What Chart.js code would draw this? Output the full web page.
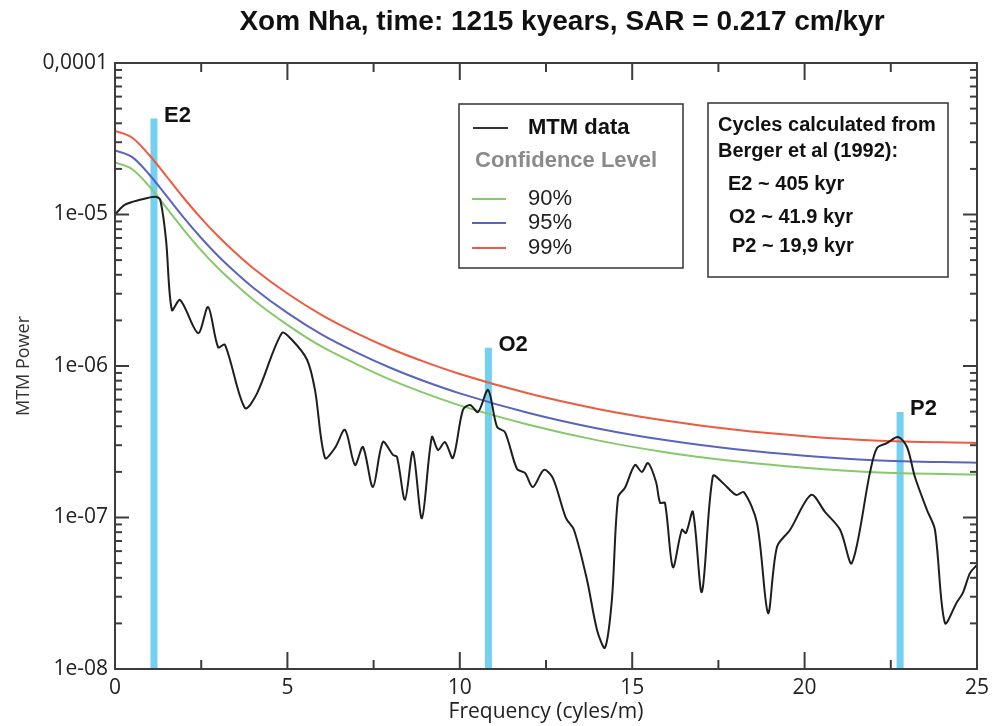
<!DOCTYPE html>
<html>
<head>
<meta charset="utf-8">
<title>Xom Nha MTM spectrum</title>
<script src="https://cdn.jsdelivr.net/npm/chart.js@4/dist/chart.umd.min.js"></script>
<style>
    html, body { margin: 0; padding: 0; background: #fff; }
    #wrap { width: 1003px; height: 726px; }
</style>
</head>
<body>
<div id="wrap"><canvas id="spectrum" width="1003" height="726"></canvas></div>
<script>
// MTM spectrum (frequency in cycles/m, power)
const mtmFreq = [0, 0.29, 0.73, 1.16, 1.31, 1.48, 1.65, 1.89, 2.41, 2.70,
    2.99, 3.19, 3.77, 4.12, 4.84, 5.13, 5.57, 5.80, 6.09, 6.38,
    6.67, 6.96, 7.19, 7.48, 7.77, 8.06, 8.18, 8.41, 8.64, 8.90,
    9.19, 9.37, 9.57, 9.80, 10.09, 10.30, 10.53, 10.82, 11.08, 11.31,
    11.66, 11.89, 12.12, 12.44, 12.70, 13.08, 13.31, 13.69, 13.98, 14.21,
    14.41, 14.59, 14.79, 15.08, 15.28, 15.46, 15.69, 15.81, 15.95, 16.18,
    16.44, 16.56, 16.76, 17.02, 17.34, 17.63, 18.01, 18.24, 18.62, 18.94,
    19.20, 19.58, 20.19, 20.59, 21.03, 21.37, 21.90, 22.10, 22.39, 22.71,
    22.97, 23.20, 23.55, 23.78, 24.07, 24.42, 24.59, 24.80, 25.0];
const mtmPower = [1.0e-5, 1.16e-5, 1.25e-5, 1.31e-5, 1.25e-5, 6.8e-6, 2.34e-6, 2.73e-6, 1.65e-6, 2.45e-6,
    1.33e-6, 1.38e-6, 5.28e-7, 6.6e-7, 1.65e-6, 1.49e-6, 1.10e-6, 6.95e-7, 2.47e-7, 2.88e-7,
    3.79e-7, 2.22e-7, 2.92e-7, 1.59e-7, 3.15e-7, 2.59e-7, 2.51e-7, 1.31e-7, 2.71e-7, 9.9e-8,
    3.40e-7, 2.79e-7, 3.15e-7, 2.47e-7, 5.13e-7, 5.53e-7, 4.97e-7, 6.95e-7, 3.96e-7, 3.66e-7,
    2.09e-7, 1.97e-7, 1.59e-7, 2.06e-7, 1.82e-7, 9.9e-8, 8.3e-8, 3.87e-8, 1.81e-8, 1.38e-8,
    2.85e-8, 1.36e-7, 1.57e-7, 2.22e-7, 2.0e-7, 2.29e-7, 1.72e-7, 1.25e-7, 1.25e-7, 4.7e-8,
    8.3e-8, 7.9e-8, 1.09e-7, 3.22e-8, 1.88e-7, 1.69e-7, 1.41e-7, 1.47e-7, 9.2e-8, 2.34e-8,
    6.4e-8, 8.3e-8, 1.41e-7, 1.09e-7, 8.3e-8, 5.0e-8, 2.0e-7, 2.88e-7, 3.10e-7, 3.40e-7,
    2.92e-7, 1.85e-7, 1.12e-7, 8.3e-8, 2.01e-8, 2.77e-8, 3.18e-8, 4.31e-8, 4.86e-8];

// confidence levels
const confFreq = [0, 0.5, 1, 1.5, 2, 2.5, 3, 3.5, 4, 5, 6, 7, 8, 9, 10, 12, 14, 16, 18, 20, 22, 25];
const conf90 = [2.21e-5, 1.99e-5, 1.53e-5, 1.10e-5, 7.9e-6, 5.8e-6, 4.4e-6, 3.45e-6, 2.75e-6, 1.87e-6, 1.34e-6,
    1.03e-6, 8.1e-7, 6.6e-7, 5.5e-7, 4.1e-7, 3.23e-7, 2.69e-7, 2.35e-7, 2.13e-7, 1.99e-7, 1.92e-7];
const conf95 = [2.65e-5, 2.39e-5, 1.83e-5, 1.32e-5, 9.5e-6, 7.0e-6, 5.3e-6, 4.14e-6, 3.30e-6, 2.24e-6, 1.61e-6,
    1.23e-6, 9.7e-7, 7.9e-7, 6.6e-7, 4.9e-7, 3.87e-7, 3.23e-7, 2.82e-7, 2.56e-7, 2.39e-7, 2.30e-7];
const conf99 = [3.56e-5, 3.21e-5, 2.46e-5, 1.78e-5, 1.28e-5, 9.43e-6, 7.15e-6, 5.57e-6, 4.44e-6, 3.01e-6, 2.17e-6,
    1.65e-6, 1.30e-6, 1.06e-6, 8.86e-7, 6.58e-7, 5.21e-7, 4.35e-7, 3.79e-7, 3.44e-7, 3.22e-7, 3.10e-7];
const confLabels = ['90%', '95%', '99%'];

// orbital cycle markers
const cycleNames = ['E2', 'O2', 'P2'];
const cycleFreq = [1.13, 10.83, 22.77];
const cycleTop = [4.3e-5, 1.32e-6, 4.97e-7];
const cycleNotes = ['E2 ~ 405 kyr', 'O2 ~ 41.9 kyr', 'P2 ~ 19,9 kyr'];

const xTickLabels = ['0', '5', '10', '15', '20', '25'];
const yTickLabels = ['1e-08', '1e-07', '1e-06', '1e-05', '0,0001'];

const chartTitle = 'Xom Nha, time: 1215 kyears, SAR = 0.217 cm/kyr';

const SANS = '"Liberation Sans", Arial, sans-serif';
const AXISFONT = '"Open Sans", sans-serif';
const BAR_COLOR = '#74d0f2';
const confColors = ['#86c96a', '#5a64bd', '#ee5a40'];

const toPoints = (xs, ys) => xs.map((x, i) => ({ x: x, y: ys[i] }));

const datasets = [
    { label: 'MTM data', data: toPoints(mtmFreq, mtmPower), borderColor: '#1e1e1e', borderWidth: 2, tension: 0.3, order: 1 }
];
[conf90, conf95, conf99].forEach((vals, i) => {
    datasets.push({
        label: confLabels[i], data: toPoints(confFreq, vals), borderColor: confColors[i],
        borderWidth: 2, cubicInterpolationMode: 'monotone', order: 2
    });
});
cycleNames.forEach((name, i) => {
    datasets.push({
        label: name, data: [{ x: cycleFreq[i], y: 1e-8 }, { x: cycleFreq[i], y: cycleTop[i] }],
        borderColor: BAR_COLOR, borderWidth: 7, borderCapStyle: 'butt', order: 10
    });
});

// frame, inward ticks, title, labels and the two text boxes
const decorations = {
    id: 'decorations',
    afterDraw(chart) {
        const ctx = chart.ctx;
        const { left, right, top, bottom } = chart.chartArea;
        const xs = chart.scales.x, ys = chart.scales.y;
        const line = (x1, y1, x2, y2) => { ctx.beginPath(); ctx.moveTo(x1, y1); ctx.lineTo(x2, y2); ctx.stroke(); };

        ctx.save();
        ctx.strokeStyle = '#3c3c3c';
        ctx.lineWidth = 2;
        ctx.strokeRect(left, top, right - left, bottom - top);

        for (let v = 2.5; v < 25; v += 2.5) {
            const px = xs.getPixelForValue(v);
            const len = v % 5 === 0 ? 17 : 9;
            line(px, bottom, px, bottom - len);
            line(px, top, px, top + len);
        }
        for (let e = -8; e < -4; e++) {
            for (let m = 1; m < 10; m++) {
                if (e === -8 && m === 1) continue;
                const py = ys.getPixelForValue(m * Math.pow(10, e));
                const len = m === 1 ? 14 : 7;
                line(left, py, left + len, py);
                line(right, py, right - len, py);
            }
        }

        // title
        ctx.fillStyle = '#111';
        ctx.font = 'bold 28px ' + SANS;
        ctx.textAlign = 'center';
        ctx.textBaseline = 'middle';
        ctx.fillText(chartTitle, 562, 22);

        // cycle labels next to the bars
        ctx.textAlign = 'left';
        ctx.font = 'bold 22px ' + SANS;
        cycleNames.forEach((name, i) => {
            ctx.fillText(name, xs.getPixelForValue(cycleFreq[i]) + 10, ys.getPixelForValue(cycleTop[i]) - 3);
        });

        // legend box
        ctx.fillStyle = '#fff';
        ctx.fillRect(459, 104, 224, 164);
        ctx.lineWidth = 1.5;
        ctx.strokeStyle = '#333';
        ctx.strokeRect(459, 104, 224, 164);
        ctx.lineWidth = 2;
        ctx.strokeStyle = '#333';
        line(473, 128, 508, 128);
        ctx.fillStyle = '#111';
        ctx.font = 'bold 22px ' + SANS;
        ctx.fillText('MTM data', 528, 128);
        ctx.fillStyle = '#8a8a8a';
        ctx.fillText('Confidence Level', 475, 161);
        ctx.save();
        ctx.beginPath();
        ctx.rect(460, 105, 222, 153);
        ctx.clip();
        ctx.font = '22px ' + SANS;
        [199, 223, 248].forEach((y, i) => {
            ctx.strokeStyle = confColors[i];
            line(472, y, 506, y);
            ctx.fillStyle = '#222';
            ctx.fillText(confLabels[i], 528, y);
        });
        ctx.restore();

        // cycles box
        ctx.fillStyle = '#fff';
        ctx.fillRect(708, 103, 240, 174);
        ctx.lineWidth = 1.5;
        ctx.strokeStyle = '#333';
        ctx.strokeRect(708, 103, 240, 174);
        ctx.fillStyle = '#111';
        ctx.font = 'bold 20px ' + SANS;
        ctx.textAlign = 'left';
        ctx.fillText('Cycles calculated from', 718, 125);
        ctx.fillText('Berger et al (1992):', 718, 151);
        const noteX = [728, 729, 732], noteY = [184, 217, 246];
        cycleNotes.forEach((t, i) => ctx.fillText(t, noteX[i], noteY[i]));
        ctx.restore();
    }
};

new Chart(document.getElementById('spectrum'), {
    type: 'line',
    data: { datasets: datasets },
    options: {
        responsive: false,
        animation: false,
        devicePixelRatio: 1,
        layout: { padding: { left: 0, right: 26, top: 63, bottom: 0 } },
        elements: { point: { radius: 0 } },
        plugins: { legend: { display: false }, tooltip: { enabled: false } },
        scales: {
            x: {
                type: 'linear', min: 0, max: 25,
                grid: { display: false, drawTicks: false },
                border: { display: false },
                ticks: {
                    stepSize: 2.5, autoSkip: false, maxRotation: 0, padding: 6, color: '#222',
                    font: { family: AXISFONT, size: 21 },
                    callback: v => (v % 5 === 0 ? xTickLabels[v / 5] : '')
                },
                title: { display: true, text: 'Frequency (cyles/m)', color: '#222', font: { family: AXISFONT, size: 21 }, padding: { top: 0, bottom: 1 } },
                afterFit: s => { s.height = 57; }
            },
            y: {
                type: 'logarithmic', min: 1e-8, max: 1e-4,
                grid: { display: false, drawTicks: false },
                border: { display: false },
                ticks: {
                    autoSkip: false, padding: 7, color: '#222',
                    font: { family: AXISFONT, size: 21 },
                    callback: v => {
                        const l = Math.log10(v), r = Math.round(l);
                        return Math.abs(l - r) < 1e-9 ? yTickLabels[r + 8] : '';
                    }
                },
                title: { display: true, text: 'MTM Power', color: '#333', font: { family: AXISFONT, size: 18 }, padding: { top: 13, bottom: 0 } },
                afterFit: s => { s.width = 115; }
            }
        }
    },
    plugins: [decorations]
});
</script>
</body>
</html>
